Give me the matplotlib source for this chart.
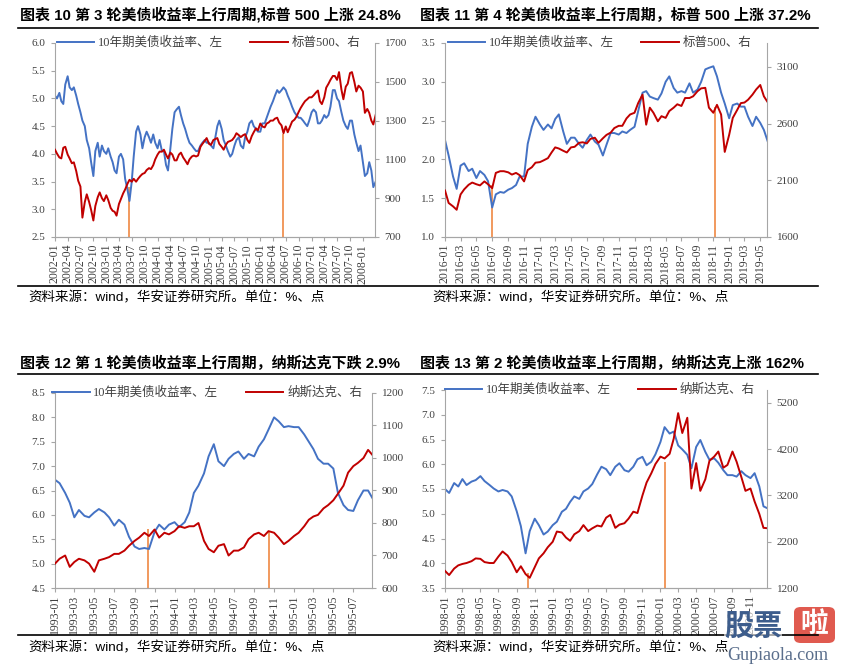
import pandas as pd
import matplotlib
matplotlib.use("Agg")
import matplotlib.pyplot as plt
import matplotlib.dates as mdates
from matplotlib.lines import Line2D
from matplotlib.patches import FancyBboxPatch

W, H = 841, 665
BLUE = "#4472C4"
RED = "#C00000"
ORANGE = "#ED7D31"
GREY = "#A6A6A6"
CJK = ["Liberation Sans", "Noto Sans CJK SC"]
SERIF = ["Liberation Serif", "Noto Sans CJK SC"]

# ---- panel 1: 2002-01 .. 2008-04, semi-monthly readings ----
p1_start = "2002-01-01"
p1_yield = [
    5.05, 5.00, 5.10, 4.95, 4.90, 5.25, 5.40, 5.20, 5.15, 5.20, 5.05, 4.90,
    4.75, 4.60, 4.50, 4.25, 4.10, 3.85, 3.60, 4.05, 4.20, 3.95, 4.15, 4.05,
    4.00, 4.10, 3.95, 3.85, 3.70, 3.65, 3.95, 4.00, 3.90, 3.55, 3.35, 3.15,
    3.50, 3.95, 4.40, 4.50, 4.35, 4.10, 4.30, 4.40, 4.30, 4.20, 4.35, 4.20,
    4.10, 4.25, 4.05, 4.05, 3.80, 3.70, 4.10, 4.45, 4.75, 4.80, 4.85, 4.70,
    4.55, 4.45, 4.30, 4.20, 4.15, 4.10, 4.05, 4.05, 4.15, 4.20, 4.25, 4.20,
    4.20, 4.15, 4.10, 4.30, 4.50, 4.60, 4.45, 4.25, 4.15, 4.05, 3.95, 4.00,
    4.15, 4.25, 4.30, 4.15, 4.10, 4.30, 4.40, 4.55, 4.60, 4.50, 4.45, 4.40,
    4.40, 4.55, 4.55, 4.65, 4.75, 4.85, 4.95, 5.05, 5.15, 5.10, 5.15, 5.20,
    5.15, 5.05, 4.95, 4.85, 4.75, 4.70, 4.65, 4.65, 4.60, 4.55, 4.50, 4.60,
    4.75, 4.80, 4.75, 4.55, 4.55, 4.60, 4.70, 4.65, 4.70, 4.85, 5.15, 5.15,
    5.00, 4.95, 4.75, 4.60, 4.50, 4.45, 4.60, 4.60, 4.35, 4.20, 4.05, 4.15,
    3.85, 3.60, 3.65, 3.85, 3.70, 3.40, 3.50,
]
p1_index = [
    1150, 1130, 1110, 1105, 1160, 1165, 1125, 1105, 1080, 1085, 1040, 990,
    960, 800, 880, 920, 880, 840, 785, 860, 905, 930, 900, 885,
    915, 890, 850, 835, 830, 810, 870, 895, 925, 945, 975, 995,
    985, 1000, 985, 1000, 1015, 1025, 1030, 1045, 1055, 1050, 1070, 1100,
    1125, 1140, 1140, 1150, 1125, 1105, 1135, 1125, 1095, 1095, 1125, 1135,
    1110, 1095, 1075, 1100, 1115, 1120, 1115, 1120, 1165, 1180, 1195, 1210,
    1180, 1175, 1200, 1205, 1210, 1180, 1165, 1150, 1175, 1190, 1195, 1200,
    1215, 1235, 1225, 1215, 1225, 1230, 1200, 1185, 1220, 1240, 1260, 1250,
    1285, 1270, 1265, 1285, 1290, 1300, 1300, 1310, 1315, 1290, 1275, 1235,
    1270, 1240, 1270, 1295, 1305, 1320, 1345, 1365, 1385, 1400, 1410, 1420,
    1420, 1430, 1445, 1455, 1400, 1385, 1420, 1470, 1490, 1510, 1530, 1530,
    1510, 1550, 1460, 1410, 1475, 1490, 1545, 1550, 1500, 1450, 1480, 1470,
    1450, 1340, 1360, 1340, 1300, 1280, 1330,
]
p1_marks = ["2003-06-13", "2006-06-13"]
p1_mark_tops = [3.4, 4.35]

# ---- panel 2: 2016-01 .. 2019-06 ----
p2_start = "2016-01-01"
p2_yield = [
    2.25, 2.05, 1.78, 1.62, 1.92, 1.95, 1.85, 1.88, 1.76, 1.85, 1.80, 1.72,
    1.38, 1.55, 1.58, 1.57, 1.61, 1.63, 1.67, 1.78, 1.78, 2.20, 2.42, 2.55,
    2.45, 2.38, 2.45, 2.40, 2.52, 2.58, 2.36, 2.20, 2.28, 2.28, 2.20, 2.15,
    2.25, 2.32, 2.23, 2.19, 2.05, 2.19, 2.34, 2.34, 2.32, 2.36, 2.34, 2.38,
    2.42, 2.62, 2.86, 2.88, 2.81, 2.79, 2.77, 2.85, 3.00, 3.07, 2.92, 2.86,
    2.88, 2.86, 2.98, 2.86, 2.90, 3.00, 3.16, 3.18, 3.20, 3.07, 2.86, 2.72,
    2.53, 2.70, 2.72, 2.68, 2.68, 2.55, 2.43, 2.55, 2.47, 2.38, 2.21,
]
p2_index = [
    2010, 1900, 1870, 1840, 1975, 2020, 2060, 2080, 2065, 2055, 2090, 2065,
    2030, 2165, 2180, 2180, 2170, 2150, 2165, 2145, 2090, 2190, 2215, 2255,
    2260, 2275, 2295, 2345, 2390, 2380, 2360, 2345, 2390, 2395, 2430, 2435,
    2425, 2465, 2475, 2430, 2470, 2500, 2520, 2560, 2580, 2580, 2645, 2680,
    2695, 2780, 2855, 2590, 2740, 2695, 2620, 2665, 2650, 2710, 2740, 2770,
    2755, 2825, 2825, 2840, 2885, 2910, 2915, 2740, 2695, 2765, 2680, 2350,
    2500, 2650, 2720, 2780, 2785, 2810, 2855, 2900, 2940, 2840, 2780,
]
p2_marks = ["2016-07-02", "2018-11-06"]
p2_mark_tops = [1.67, 2.68]

# ---- panel 3: 1993-01 .. 1995-09 ----
p3_start = "1993-01-01"
p3_yield = [
    6.72, 6.65, 6.45, 6.25, 5.95, 6.10, 5.98, 5.95, 6.05, 6.12,
    6.05, 5.95, 5.78, 5.90, 5.80, 5.55, 5.35, 5.30, 5.32, 5.30,
    5.65, 5.80, 5.70, 5.80, 5.85, 5.75, 5.85, 6.05, 6.45, 6.60,
    6.85, 7.20, 7.45, 7.10, 7.00, 7.15, 7.25, 7.30, 7.15, 7.25,
    7.20, 7.40, 7.55, 7.75, 8.00, 7.92, 7.80, 7.82, 7.80, 7.80,
    7.65, 7.50, 7.35, 7.15, 7.05, 7.05, 6.95, 6.45, 6.20, 6.10,
    6.08, 6.30, 6.50, 6.50, 6.30,
]
p3_index = [
    675, 690, 700, 665, 680, 690, 685, 675, 650, 685,
    690, 695, 705, 705, 715, 730, 745, 755, 770, 760,
    780, 755, 770, 765, 775, 790, 785, 790, 790, 800,
    745, 720, 710, 730, 735, 700, 715, 715, 725, 750,
    765, 770, 760, 775, 770, 755, 735, 745, 760, 770,
    790, 810, 820, 825, 845, 855, 870, 890, 915, 955,
    975, 985, 1000, 1025, 1005,
]
p3_marks = ["1993-10-12", "1994-10-18"]
p3_mark_tops = [5.72, 5.66]

# ---- panel 4: 1998-01 .. 2001-01 ----
p4_start = "1998-01-01"
p4_yield = [
    5.50, 5.42, 5.62, 5.55, 5.70, 5.58, 5.65, 5.68, 5.76, 5.66,
    5.58, 5.51, 5.45, 5.48, 5.45, 5.35, 5.05, 4.75, 4.20, 4.65,
    4.90, 4.77, 4.58, 4.64, 4.77, 4.84, 5.04, 5.10, 5.24, 5.35,
    5.30, 5.45, 5.51, 5.60, 5.80, 5.95, 5.90, 5.78, 5.95, 6.02,
    5.88, 5.85, 5.95, 6.10, 6.15, 5.98, 6.05, 6.20, 6.45, 6.75,
    6.62, 6.66, 6.38, 6.30, 6.19, 5.92, 6.35, 6.49, 6.25, 6.09,
    6.12, 6.03, 5.88, 5.78, 5.78, 5.75, 5.86, 5.78, 5.72, 5.82,
    5.55, 5.15, 5.10,
]
p4_index = [
    1570, 1480, 1620, 1690, 1720, 1740, 1780, 1840, 1830, 1760,
    1740, 1740, 1880, 1990, 1900, 1760, 1540, 1670, 1500, 1420,
    1650, 1840, 1950, 2080, 2200, 2420, 2400, 2290, 2220, 2360,
    2430, 2560, 2430, 2490, 2550, 2530, 2720, 2780, 2500, 2570,
    2600, 2700, 2850, 2820, 3200, 3480, 3680, 3880, 4040, 4000,
    4100, 4430, 4980, 4550, 4880, 3350, 3900, 3300, 3550, 3950,
    4040, 4150, 3800, 3860, 4150, 3930, 3600, 3300, 3350, 3070,
    2800, 2500, 2490,
]
p4_marks = ["1998-10-09", "2000-01-16"]
p4_mark_tops = [3.8, 6.05]

titles = [
    "图表 10 第 3 轮美债收益率上行周期,标普 500 上涨 24.8%",
    "图表 11 第 4 轮美债收益率上行周期，标普 500 上涨 37.2%",
    "图表 12 第 1 轮美债收益率上行周期，纳斯达克下跌 2.9%",
    "图表 13 第 2 轮美债收益率上行周期，纳斯达克上涨 162%",
]
yield_label = "10年期美债收益率、左"
spx_label = "标普500、右"
ndq_label = "纳斯达克、右"
source = "资料来源：wind，华安证券研究所。单位：%、点"


def fx(x):
    return x / W


def fy(y):
    return 1 - y / H


def rect(l, t, r, b):
    return [fx(l), fy(b), (r - l) / W, (b - t) / H]


fig = plt.figure(figsize=(W / 100, H / 100), dpi=100)


def panel(box, start, yld, idx, label2, ylim, yticks, rlim, rticks, months, marks, tops):
    dates = pd.date_range(start, periods=len(yld), freq="SMS")
    ax = fig.add_axes(box)
    ax2 = ax.twinx()
    ax.vlines(pd.to_datetime(marks), ylim[0], tops, color=ORANGE, lw=1.1, zorder=1)
    l1, = ax.plot(dates, yld, color=BLUE, lw=1.4, zorder=2)
    l2, = ax2.plot(dates, idx, color=RED, lw=1.4)
    # last tick month is not labelled in the original
    ax.set_xlim(dates[0], dates[-1] - pd.Timedelta(days=5))
    ax.set_ylim(*ylim)
    ax.set_yticks(yticks)
    ax.set_yticklabels([f"{v:.1f}" for v in yticks])
    ax2.set_ylim(*rlim)
    ax2.set_yticks(rticks)
    ax2.set_yticklabels([str(v) for v in rticks])
    ax.xaxis.set_major_locator(mdates.MonthLocator(bymonth=months))
    ax.xaxis.set_major_formatter(mdates.DateFormatter("%Y-%m"))
    for a in (ax, ax2):
        a.spines["top"].set_visible(False)
        for s in ("left", "right", "bottom"):
            a.spines[s].set_color(GREY)
        a.tick_params(colors=GREY, labelcolor="#404040", length=3, width=0.8,
                      labelsize=8)
        for t in a.get_yticklabels():
            t.set_family(SERIF)
    ax.spines["right"].set_visible(False)
    ax2.spines["left"].set_visible(False)
    ax.tick_params(axis="x", labelrotation=90, labelsize=8.5, pad=2)
    for t in ax.get_xticklabels():
        t.set_family(SERIF)
    ax.tick_params(axis="y", pad=4)
    ax2.tick_params(axis="y", pad=4)
    leg = ax2.legend([l1, l2], [yield_label, label2], loc="center",
                     bbox_to_anchor=(0.48, 1.0), ncol=2, frameon=False,
                     handlelength=3.0, columnspacing=2.2, handletextpad=0.3,
                     prop={"family": SERIF, "size": 9})
    for t in leg.get_texts():
        t.set_color("#404040")
    return ax


q = [1, 4, 7, 10]
b = [1, 3, 5, 7, 9, 11]
panel(rect(55, 43, 375, 237), p1_start, p1_yield, p1_index, spx_label,
      (2.5, 6.0), [2.5, 3.0, 3.5, 4.0, 4.5, 5.0, 5.5, 6.0],
      (700, 1700), [700, 900, 1100, 1300, 1500, 1700], q, p1_marks, p1_mark_tops)
panel(rect(445, 43, 767, 237), p2_start, p2_yield, p2_index, spx_label,
      (1.0, 3.5), [1.0, 1.5, 2.0, 2.5, 3.0, 3.5],
      (1600, 3310), [1600, 2100, 2600, 3100], b, p2_marks, p2_mark_tops)
panel(rect(55, 393, 372, 588), p3_start, p3_yield, p3_index, ndq_label,
      (4.5, 8.5), [4.5, 5.0, 5.5, 6.0, 6.5, 7.0, 7.5, 8.0, 8.5],
      (600, 1200), [600, 700, 800, 900, 1000, 1100, 1200], b, p3_marks, p3_mark_tops)
panel(rect(445, 390, 767, 588), p4_start, p4_yield, p4_index, ndq_label,
      (3.5, 7.5), [3.5, 4.0, 4.5, 5.0, 5.5, 6.0, 6.5, 7.0, 7.5],
      (1200, 5480), [1200, 2200, 3200, 4200, 5200], b, p4_marks, p4_mark_tops)

# titles, rules and source notes
for (x, y), t in zip([(20, 15), (420, 15), (20, 363), (420, 363)], titles):
    fig.text(fx(x), fy(y), t, ha="left", va="center", fontsize=10.8,
             fontweight="bold", family=CJK, color="black")
for y in (28, 286, 374, 635):
    fig.add_artist(Line2D([fx(18), fx(818)], [fy(y), fy(y)], color="black", lw=1.2))
for x, y in [(28, 298), (432, 298), (28, 648), (432, 648)]:
    fig.text(fx(x), fy(y), source, ha="left", va="center", fontsize=9.7,
             family=CJK, color="black")

# watermark (lower right corner, sits over the last tick labels like the original)
fig.text(fx(724), fy(627), "股票", ha="left", va="center", fontsize=21,
         fontweight="bold", family=CJK, color="#3D5D8C",
         bbox=dict(facecolor="white", edgecolor="none", alpha=0.6, pad=0))
fig.add_artist(FancyBboxPatch((fx(794), fy(643)), (835 - 794) / W, 36 / H,
                              boxstyle="round,pad=0,rounding_size=0.008",
                              transform=fig.transFigure, color="#E05A4F", lw=0))
fig.text(fx(814), fy(625), "啦", ha="center", va="center", fontsize=20,
         fontweight="bold", family=CJK, color="white")
fig.text(fx(727), fy(656), "Gupiaola.com", ha="left", va="center", fontsize=13,
         family=SERIF, color="#5A6E8C")

fig.savefig("out.png", dpi=100)
